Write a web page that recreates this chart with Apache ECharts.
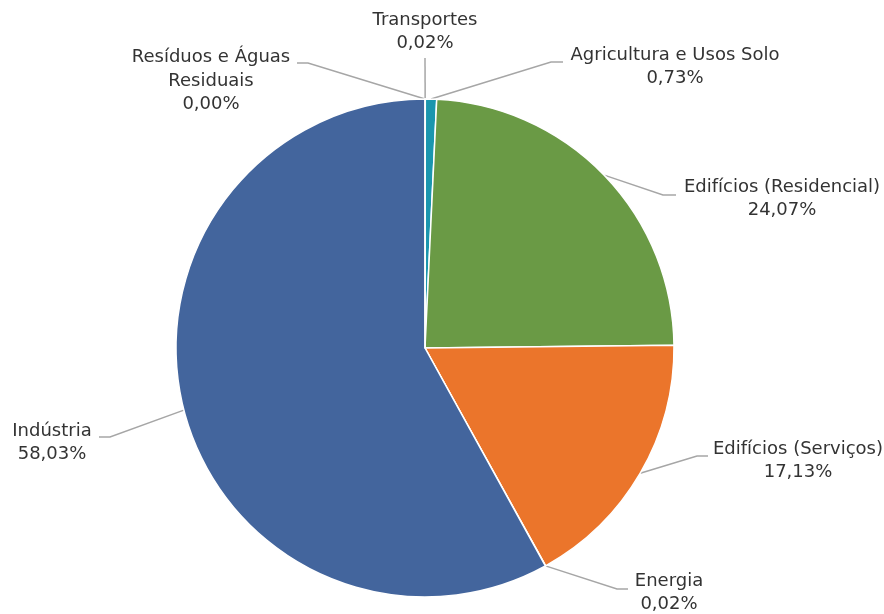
<!DOCTYPE html>
<html>
<head>
<meta charset="utf-8">
<script src="https://cdn.jsdelivr.net/npm/echarts@6/dist/echarts.min.js"></script>
<style>
  html, body { margin: 0; padding: 0; background: #ffffff; }
  #chart { width: 884px; height: 614px; }
</style>
</head>
<body>
<div id="chart"></div>
<script>
// Sector shares (%), clockwise from 12 o'clock
const categories = [
  'Transportes',
  'Agricultura e Usos Solo',
  'Edifícios (Residencial)',
  'Edifícios (Serviços)',
  'Energia',
  'Indústria',
  'Resíduos e Águas\nResiduais'
];
const shares = [0.02, 0.73, 24.07, 17.13, 0.02, 58.03, 0.00];
const colors = ['#1b96ae', '#1b96ae', '#6a9a45', '#eb752b', '#eb752b', '#43659d', '#43659d'];

// Where each label block sits and how its leader line bends
const labelPlacement = [
  { x: 425, y: 32,  elbow: [425, 58],  end: [425, 58] },
  { x: 675, y: 67,  elbow: [551, 62],  end: [563, 62] },
  { x: 782, y: 199, elbow: [663, 195], end: [676, 195] },
  { x: 798, y: 461, elbow: [697, 456], end: [708, 456] },
  { x: 669, y: 593, elbow: [617, 589], end: [628, 589] },
  { x: 52,  y: 443, elbow: [110, 437], end: [99, 437] },
  { x: 211, y: 81,  elbow: [308, 63],  end: [297, 63] }
];

const fmtPct = v => v.toFixed(2).replace('.', ',') + '%';

const chart = echarts.init(document.getElementById('chart'), null, { renderer: 'canvas' });
chart.setOption({
  animation: false,
  backgroundColor: '#ffffff',
  series: [{
    type: 'pie',
    center: [425, 348],
    radius: 249,
    startAngle: 90,
    clockwise: true,
    silent: true,
    avoidLabelOverlap: false,
    itemStyle: { borderColor: '#ffffff', borderWidth: 1.5 },
    label: {
      show: true,
      position: 'outside',
      color: '#333333',
      fontFamily: 'DejaVu Sans',
      fontSize: 18,
      lineHeight: 23.5,
      align: 'center',
      formatter: p => p.name + '\n' + fmtPct(p.value)
    },
    labelLine: {
      show: true,
      length: 10,
      length2: 10,
      lineStyle: { color: '#a6a6a6', width: 1.5 }
    },
    labelLayout: params => {
      const pl = labelPlacement[params.dataIndex];
      const start = params.labelLinePoints ? params.labelLinePoints[0] : pl.elbow;
      return {
        x: pl.x,
        y: pl.y,
        align: 'center',
        verticalAlign: 'middle',
        labelLinePoints: [start, pl.elbow, pl.end]
      };
    },
    data: categories.map((name, i) => ({
      name: name,
      value: shares[i],
      itemStyle: { color: colors[i] }
    }))
  }]
});
</script>
</body>
</html>
